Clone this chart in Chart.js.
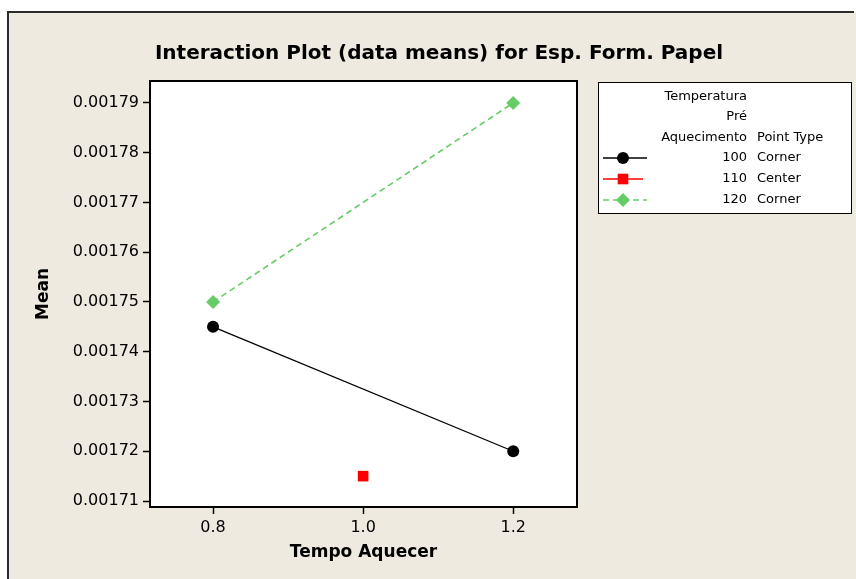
<!DOCTYPE html>
<html>
<head>
<meta charset="utf-8">
<title>Interaction Plot</title>
<script src="https://cdn.jsdelivr.net/npm/chart.js@4/dist/chart.umd.min.js"></script>
<style>
  html, body { margin: 0; padding: 0; background: #fff; }
  #wrap { width: 856px; height: 579px; }
</style>
</head>
<body>
<div id="wrap"><canvas id="myChart" width="856" height="579"></canvas></div>
<script>
// Means of Esp. Form. Papel by Tempo Aquecer, one series per preheat temperature
const levels = ['100', '110', '120'];
const pointTypes = ['Corner', 'Center', 'Corner'];
const tempo100 = [0.8, 1.2];
const mean100 = [0.001745, 0.00172];
const tempo110 = [1.0];
const mean110 = [0.001715];
const tempo120 = [0.8, 1.2];
const mean120 = [0.00175, 0.00179];

// Axis ticks
const xTicks = [0.8, 1.0, 1.2];
const yTicks = [0.00171, 0.00172, 0.00173, 0.00174, 0.00175, 0.00176, 0.00177, 0.00178, 0.00179];

const FONT = "'DejaVu Sans', Verdana, sans-serif";
const BEIGE = '#EEEAE0';

function toPoints(xs, ys) {
  return xs.map((x, i) => ({ x: x, y: ys[i] }));
}

// Page frame, white plot area and its box
const framePlugin = {
  id: 'frame',
  beforeDraw(chart) {
    const ctx = chart.ctx;
    const a = chart.chartArea;
    ctx.save();
    ctx.fillStyle = '#ffffff';
    ctx.fillRect(0, 0, chart.width, chart.height);
    ctx.fillStyle = BEIGE;
    ctx.fillRect(8, 12, chart.width - 8, chart.height - 12);
    ctx.strokeStyle = '#2b2b2b';
    ctx.lineWidth = 2;
    ctx.beginPath();
    ctx.moveTo(8, chart.height);
    ctx.lineTo(8, 12);
    ctx.lineTo(chart.width - 2, 12);
    ctx.stroke();
    ctx.fillStyle = '#ffffff';
    ctx.fillRect(a.left, a.top, a.right - a.left, a.bottom - a.top);
    ctx.restore();
  },
  afterDatasetsDraw(chart) {
    const ctx = chart.ctx;
    const a = chart.chartArea;
    ctx.save();
    ctx.strokeStyle = '#000';
    ctx.lineWidth = 2;
    ctx.strokeRect(a.left, a.top, a.right - a.left, a.bottom - a.top);
    // title
    ctx.fillStyle = '#000';
    ctx.font = 'bold 20px ' + FONT;
    ctx.textAlign = 'center';
    ctx.textBaseline = 'middle';
    ctx.fillText('Interaction Plot (data means) for Esp. Form. Papel', 439, 54);
    ctx.restore();
  }
};

function drawMarker(ctx, style, x, y, r, color) {
  ctx.fillStyle = color;
  ctx.beginPath();
  if (style === 'circle') {
    ctx.arc(x, y, r, 0, Math.PI * 2);
  } else if (style === 'rect') {
    const s = r * Math.SQRT1_2;
    ctx.rect(x - s, y - s, 2 * s, 2 * s);
  } else {
    ctx.moveTo(x, y - r);
    ctx.lineTo(x + r, y);
    ctx.lineTo(x, y + r);
    ctx.lineTo(x - r, y);
    ctx.closePath();
  }
  ctx.fill();
}

// Two-column legend box (temperature / point type)
const tableLegend = {
  id: 'tableLegend',
  afterDraw(chart) {
    const ctx = chart.ctx;
    const box = { x: 598, y: 82, w: 253, h: 131 };
    ctx.save();
    ctx.fillStyle = '#fff';
    ctx.fillRect(box.x, box.y, box.w, box.h);
    ctx.strokeStyle = '#000';
    ctx.lineWidth = 1;
    ctx.strokeRect(box.x + 0.5, box.y + 0.5, box.w, box.h);

    ctx.font = '13px ' + FONT;
    ctx.fillStyle = '#000';
    ctx.textBaseline = 'middle';
    ctx.textAlign = 'right';
    const col1 = 747, col2 = 757;
    ctx.fillText('Temperatura', col1, 97);
    ctx.fillText('Pré', col1, 117);
    ctx.fillText('Aquecimento', col1, 138);
    ctx.textAlign = 'left';
    ctx.fillText('Point Type', col2, 138);

    chart.data.datasets.forEach((ds, i) => {
      const y = 158 + i * 21;
      ctx.strokeStyle = ds.borderColor;
      ctx.lineWidth = 1.3;
      ctx.setLineDash(ds.borderDash || []);
      ctx.beginPath();
      ctx.moveTo(603, y);
      ctx.lineTo(i === 1 ? 643 : 647, y);
      ctx.stroke();
      ctx.setLineDash([]);
      drawMarker(ctx, ds.pointStyle, 623, y, ds.pointRadius, ds.pointBackgroundColor);
      ctx.fillStyle = '#000';
      ctx.textAlign = 'right';
      ctx.fillText(levels[i], col1, y);
      ctx.textAlign = 'left';
      ctx.fillText(pointTypes[i], col2, y);
    });
    ctx.restore();
  }
};

const ctx = document.getElementById('myChart');

new Chart(ctx, {
  type: 'line',
  data: {
    datasets: [
      {
        label: levels[0],
        data: toPoints(tempo100, mean100),
        borderColor: '#000000',
        backgroundColor: '#000000',
        pointBackgroundColor: '#000000',
        pointBorderWidth: 0,
        borderWidth: 1.3,
        pointStyle: 'circle',
        pointRadius: 6
      },
      {
        label: levels[1],
        data: toPoints(tempo110, mean110),
        borderColor: '#ff0000',
        backgroundColor: '#ff0000',
        pointBackgroundColor: '#ff0000',
        pointBorderWidth: 0,
        borderWidth: 1.3,
        pointStyle: 'rect',
        pointRadius: 7.5
      },
      {
        label: levels[2],
        data: toPoints(tempo120, mean120),
        borderColor: '#66cc66',
        backgroundColor: '#66cc66',
        pointBackgroundColor: '#66cc66',
        pointBorderWidth: 0,
        borderWidth: 1.6,
        borderDash: [6, 4],
        pointStyle: 'rectRot',
        pointRadius: 7
      }
    ]
  },
  options: {
    responsive: false,
    animation: false,
    layout: { padding: { top: 81, right: 279, left: 0, bottom: 0 } },
    plugins: {
      legend: { display: false },
      tooltip: { enabled: false },
      title: { display: false }
    },
    scales: {
      x: {
        type: 'linear',
        min: 0.716,
        max: 1.285,
        afterFit(scale) { scale.height = 72; },
        afterBuildTicks(scale) { scale.ticks = xTicks.map(v => ({ value: v })); },
        grid: { drawOnChartArea: false, color: '#000', tickLength: 7, tickWidth: 1.5 },
        border: { color: '#000', width: 2 },
        ticks: {
          color: '#000',
          padding: 4,
          font: { family: FONT, size: 16 },
          callback: v => v.toFixed(1)
        },
        title: {
          display: true,
          text: 'Tempo Aquecer',
          color: '#000',
          font: { family: FONT, size: 17, weight: 'bold' },
          padding: { top: 0, bottom: 16 }
        }
      },
      y: {
        min: 0.0017088,
        max: 0.0017944,
        afterFit(scale) { scale.width = 150; },
        afterBuildTicks(scale) { scale.ticks = yTicks.map(v => ({ value: v })); },
        grid: { drawOnChartArea: false, color: '#000', tickLength: 7, tickWidth: 1.5 },
        border: { color: '#000', width: 2 },
        ticks: {
          color: '#000',
          padding: 4,
          font: { family: FONT, size: 16 },
          callback: v => v.toFixed(5)
        },
        title: {
          display: true,
          text: 'Mean',
          color: '#000',
          font: { family: FONT, size: 17, weight: 'bold' },
          padding: { top: 33, bottom: 0 }
        }
      }
    }
  },
  plugins: [framePlugin, tableLegend]
});
</script>
</body>
</html>
